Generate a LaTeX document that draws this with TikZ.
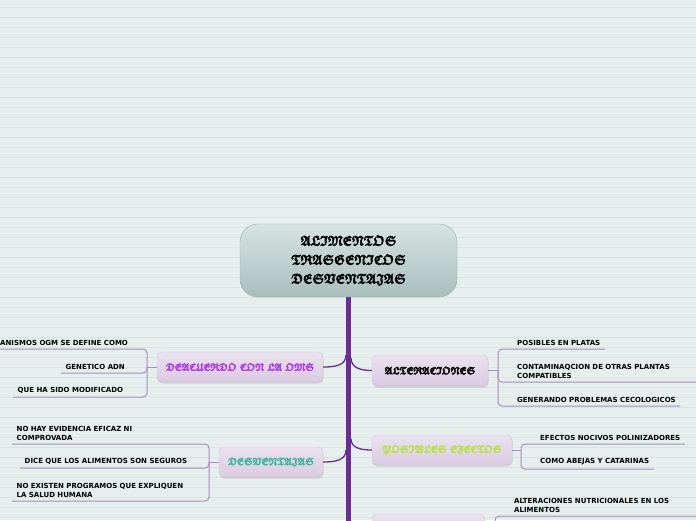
\documentclass[tikz,border=0pt]{standalone}
\usepackage{amssymb}
\usepackage{graphicx}
\usepackage{fontspec}
\setsansfont{DejaVu Sans}
\usetikzlibrary{shadows}
\definecolor{bgcol}{HTML}{E7EFEE}
\definecolor{rulecol}{HTML}{DAE4E2}
\definecolor{trunkcol}{HTML}{6A2D91}
\definecolor{twigcol}{HTML}{A98BC6}
\definecolor{omscol}{HTML}{B13BE6}
\definecolor{desvcol}{HTML}{3FB79E}
\definecolor{efeccol}{HTML}{B5E24A}
\definecolor{maintop}{HTML}{D6E3E1}
\definecolor{mainbot}{HTML}{A9BEBD}
\definecolor{mainline}{HTML}{93B0AE}
\definecolor{boxtop}{HTML}{EBE2EF}
\definecolor{boxbot}{HTML}{DACAE2}
\definecolor{boxline}{HTML}{D2C2DA}
% palabra gotica, con trazo para engrosar
\newcommand{\gw}[1]{\special{pdf:literal direct 2 Tr 0.45 w}\scalebox{0.85}[1]{\boldmath$\mathfrak{#1}$}\special{pdf:literal direct 0 Tr 0.4 w}}
\begin{document}
\begin{tikzpicture}[x=1pt, y=-1pt,
    every node/.style={font=\sffamily\bfseries\fontsize{7}{9}\selectfont}, % hojas
    mainbox/.style={draw=mainline, rounded corners=18pt, top color=maintop,
        bottom color=mainbot, align=center, minimum width=217pt, minimum height=73pt,
        font={\fontsize{14}{19}\selectfont}},
    branchbox/.style={draw=boxline, rounded corners=5pt, top color=boxtop, bottom color=boxbot,
        drop shadow={shadow xshift=0.5pt, shadow yshift=-1.5pt, opacity=0.25},
        font={\fontsize{10.5}{13}\selectfont}},
    leaf/.style={inner xsep=4.5pt, inner ysep=3.5pt, anchor=south west, align=left},
    trunk/.style={trunkcol, line width=5pt},
    limb/.style={trunkcol, line width=1.3pt},
    twig/.style={twigcol, line width=1pt, rounded corners=4pt}
    ]
    \useasboundingbox (0,0) rectangle (696,520);
    \clip (0,0) rectangle (696,520);

    % fondo rayado
    \fill[bgcol] (0,0) rectangle (696,520);
    \foreach \yy in {7,17,...,517}
        \draw[rulecol, line width=0.7pt] (0,\yy) -- (696,\yy);

    % nodo central
    \node[mainbox] (main) at (348.5,260.5) {\gw{ALIMENTOS}\\\gw{TRASGENICOS}\\ \gw{DESVENTAJAS}};

    % tronco
    \coordinate (trunkend) at (348.5,530);
    \draw[trunk] (main.south) -- (trunkend);

    % ramas
    \node[branchbox, text=omscol, minimum width=166pt, minimum height=30pt] (oms) at (240,367) {\gw{DEACUERDO} \gw{CON} \gw{LA} \gw{OMS}};
    \node[branchbox, text=black, minimum width=116pt, minimum height=31pt] (alt) at (430,370.5) {\gw{ALTERACIONES}};
    \node[branchbox, text=desvcol, minimum width=104pt, minimum height=30pt] (desv) at (271,462) {\gw{DESVENTAJAS}};
    \node[branchbox, text=efeccol, minimum width=140pt, minimum height=30pt] (efec) at (442,450) {\gw{POSIBLES} \gw{EFECTOS}};
    \node[branchbox, minimum width=113pt, minimum height=30pt] (nutr) at (428.5,529) {};

    \coordinate (oms_t) at (346,355);
    \coordinate (alt_t) at (351,358);
    \coordinate (desv_t) at (346,450);
    \coordinate (efec_t) at (351,439);
    \coordinate (nutr_t) at (351,521);
    \draw[limb] (oms_t) .. controls (346,365) and (336,367) .. (oms.east);
    \draw[limb] (alt_t) .. controls (351,368) and (361,370.5) .. (alt.west);
    \draw[limb] (desv_t) .. controls (346,460) and (336,462) .. (desv.east);
    \draw[limb] (efec_t) .. controls (351,448) and (361,450) .. (efec.west);
    \draw[limb] (nutr_t) .. controls (351,527) and (361,529) .. (nutr.west);

    % uniones de las hojas
    \coordinate (omsk) at (147,367);
    \coordinate (altk) at (498,370.5);
    \coordinate (desvk) at (209,462);
    \coordinate (efeck) at (521,450);
    \coordinate (nutrk) at (495,529);
    \draw[twig] (oms.west) -- (omsk);
    \draw[twig] (alt.east) -- (altk);
    \draw[twig] (desv.west) -- (desvk);
    \draw[twig] (efec.east) -- (efeck);
    \draw[twig] (nutr.east) -- (nutrk);

    % hojas izquierda
    \node[leaf] (oms1) at (-4.5,349) {ANISMOS OGM SE DEFINE COMO};
    \node[leaf] (oms2) at (61,373) {GENETICO ADN};
    \node[leaf] (oms3) at (13,397) {QUE HA SIDO MODIFICADO};
    \node[leaf, text width=188pt] (desv1) at (12,444) {NO HAY EVIDENCIA EFICAZ NI\\COMPROVADA};
    \node[leaf] (desv2) at (20,468) {DICE QUE LOS ALIMENTOS SON SEGUROS};
    \node[leaf, text width=188pt] (desv3) at (12,501) {NO EXISTEN PROGRAMOS QUE EXPLIQUEN\\LA SALUD HUMANA};
    \foreach \lf in {oms1,oms2,oms3}
        \draw[twig] (omsk) |- (\lf.south west);
    \foreach \lf in {desv1,desv2,desv3}
        \draw[twig] (desvk) |- (\lf.south west);

    % hojas derecha
    \node[leaf] (alt1) at (512.5,349) {POSIBLES EN PLATAS};
    \node[leaf, text width=180pt] (alt2) at (512.5,382) {CONTAMINAQCION DE OTRAS PLANTAS\\COMPATIBLES};
    \node[leaf] (alt3) at (512.5,406) {GENERANDO PROBLEMAS CECOLOGICOS};
    \node[leaf] (efec1) at (535.5,444) {EFECTOS NOCIVOS POLINIZADORES};
    \node[leaf] (efec2) at (535.5,469) {COMO ABEJAS Y CATARINAS};
    \node[leaf, text width=185pt] (nutr1) at (509.5,516) {ALTERACIONES NUTRICIONALES EN LOS\\ALIMENTOS};
    \foreach \lf in {alt1,alt2,alt3}
        \draw[twig] (altk) |- (\lf.south east);
    \foreach \lf in {efec1,efec2}
        \draw[twig] (efeck) |- (\lf.south east);
    \draw[twig] (nutrk) |- (nutr1.south east);
\end{tikzpicture}
\end{document}
